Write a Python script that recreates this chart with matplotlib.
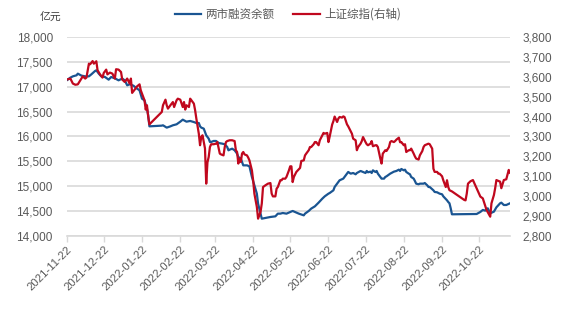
import matplotlib
matplotlib.use("Agg")
import matplotlib.pyplot as plt
import matplotlib.ticker as mticker
import pandas as pd

plt.rcParams['font.family'] = ['Liberation Sans', 'Noto Sans CJK SC', 'DejaVu Sans']

# 两市融资余额（亿元）
margin_dates = [
    "2021-11-22", "2021-11-25", "2021-11-27", "2021-11-30", "2021-12-01", "2021-12-04",
    "2021-12-07", "2021-12-10", "2021-12-12", "2021-12-15", "2021-12-16", "2021-12-18",
    "2021-12-20", "2021-12-23", "2021-12-26", "2021-12-28", "2021-12-31", "2022-01-03",
    "2022-01-06", "2022-01-08", "2022-01-10", "2022-01-12", "2022-01-15", "2022-01-18",
    "2022-01-20", "2022-01-22", "2022-01-24", "2022-01-26", "2022-01-27", "2022-01-28",
    "2022-02-07", "2022-02-08", "2022-02-11", "2022-02-14", "2022-02-16", "2022-02-19",
    "2022-02-22", "2022-02-24", "2022-02-27", "2022-03-02", "2022-03-05", "2022-03-07",
    "2022-03-09", "2022-03-10", "2022-03-11", "2022-03-13", "2022-03-14", "2022-03-15",
    "2022-03-17", "2022-03-18", "2022-03-19", "2022-03-21", "2022-03-23", "2022-03-25",
    "2022-03-28", "2022-03-30", "2022-04-01", "2022-04-02", "2022-04-03", "2022-04-05",
    "2022-04-07", "2022-04-09", "2022-04-10", "2022-04-12", "2022-04-14", "2022-04-17",
    "2022-04-19", "2022-04-21", "2022-04-23", "2022-04-25", "2022-04-26", "2022-04-28",
    "2022-04-29", "2022-05-02", "2022-05-06", "2022-05-10", "2022-05-12", "2022-05-14",
    "2022-05-16", "2022-05-19", "2022-05-22", "2022-05-24", "2022-05-26", "2022-05-29",
    "2022-06-02", "2022-06-03", "2022-06-06", "2022-06-08", "2022-06-11", "2022-06-14",
    "2022-06-17", "2022-06-19", "2022-06-22", "2022-06-23", "2022-06-26", "2022-06-27",
    "2022-06-29", "2022-07-01", "2022-07-04", "2022-07-07", "2022-07-08", "2022-07-10",
    "2022-07-12", "2022-07-14", "2022-07-15", "2022-07-18", "2022-07-20", "2022-07-22",
    "2022-07-23", "2022-07-24", "2022-07-26", "2022-07-27", "2022-07-28", "2022-07-30",
    "2022-07-31", "2022-08-01", "2022-08-03", "2022-08-04", "2022-08-06", "2022-08-07",
    "2022-08-08", "2022-08-11", "2022-08-12", "2022-08-14", "2022-08-16", "2022-08-18",
    "2022-08-19", "2022-08-20", "2022-08-22", "2022-08-23", "2022-08-24", "2022-08-26",
    "2022-08-27", "2022-08-28", "2022-08-30", "2022-08-31", "2022-09-01", "2022-09-03",
    "2022-09-04", "2022-09-07", "2022-09-08", "2022-09-10", "2022-09-11", "2022-09-12",
    "2022-09-15", "2022-09-16", "2022-09-18", "2022-09-19", "2022-09-20", "2022-09-22",
    "2022-09-23", "2022-09-24", "2022-09-26", "2022-09-27", "2022-09-28", "2022-09-29",
    "2022-09-30", "2022-10-20", "2022-10-21", "2022-10-23", "2022-10-25", "2022-10-27",
    "2022-10-29", "2022-10-31", "2022-11-03", "2022-11-05", "2022-11-08", "2022-11-09",
    "2022-11-11", "2022-11-13", "2022-11-16",
]
margin_balance = [
    17129, 17183, 17209, 17230, 17263, 17223,
    17209, 17209, 17250, 17317, 17330, 17263,
    17209, 17196, 17142, 17196, 17169, 17129,
    17163, 17129, 17029, 17049, 17022, 16962,
    16928, 16760, 16727, 16560, 16426, 16204,
    16218, 16225, 16178, 16204, 16225, 16245,
    16298, 16338, 16298, 16312, 16290, 16271,
    16271, 16204, 16178, 16158, 16090, 16024,
    15957, 15890, 15890, 15910, 15910, 15869,
    15856, 15843, 15789, 15722, 15735, 15755,
    15722, 15655, 15588, 15555, 15420, 15420,
    15400, 15186, 15018, 14851, 14650, 14449,
    14348, 14362, 14382, 14395, 14449, 14449,
    14462, 14449, 14482, 14503, 14482, 14449,
    14415, 14449, 14503, 14550, 14596, 14670,
    14750, 14797, 14851, 14864, 14918, 14985,
    15052, 15119, 15153, 15253, 15287, 15253,
    15266, 15240, 15266, 15307, 15287, 15266,
    15307, 15280, 15293, 15266, 15320, 15287,
    15307, 15253, 15186, 15153, 15153, 15186,
    15199, 15253, 15266, 15293, 15307, 15333,
    15307, 15347, 15320, 15333, 15287, 15253,
    15240, 15186, 15153, 15106, 15052, 15039,
    15052, 15052, 15065, 15018, 14985, 14985,
    14918, 14885, 14878, 14864, 14851, 14838,
    14797, 14771, 14717, 14683, 14657, 14556,
    14436, 14442, 14456, 14483, 14523, 14510,
    14556, 14456, 14489, 14576, 14657, 14670,
    14623, 14623, 14657,
]

# 上证综指
sse_dates = [
    "2021-11-22", "2021-11-25", "2021-11-27", "2021-11-29", "2021-12-01", "2021-12-03",
    "2021-12-05", "2021-12-07", "2021-12-08", "2021-12-10", "2021-12-11", "2021-12-13",
    "2021-12-14", "2021-12-16", "2021-12-17", "2021-12-19", "2021-12-21", "2021-12-22",
    "2021-12-24", "2021-12-25", "2021-12-27", "2021-12-29", "2021-12-31", "2022-01-01",
    "2022-01-03", "2022-01-05", "2022-01-06", "2022-01-08", "2022-01-10", "2022-01-12",
    "2022-01-13", "2022-01-14", "2022-01-16", "2022-01-18", "2022-01-20", "2022-01-21",
    "2022-01-23", "2022-01-24", "2022-01-25", "2022-01-26", "2022-01-27", "2022-01-28",
    "2022-02-07", "2022-02-08", "2022-02-10", "2022-02-11", "2022-02-12", "2022-02-14",
    "2022-02-16", "2022-02-17", "2022-02-19", "2022-02-20", "2022-02-22", "2022-02-24",
    "2022-02-25", "2022-02-26", "2022-02-27", "2022-03-01", "2022-03-02", "2022-03-03",
    "2022-03-05", "2022-03-06", "2022-03-07", "2022-03-09", "2022-03-10", "2022-03-11",
    "2022-03-12", "2022-03-14", "2022-03-15", "2022-03-16", "2022-03-17", "2022-03-18",
    "2022-03-19", "2022-03-21", "2022-03-23", "2022-03-24", "2022-03-26", "2022-03-27",
    "2022-03-29", "2022-03-30", "2022-03-31", "2022-04-01", "2022-04-03", "2022-04-05",
    "2022-04-07", "2022-04-08", "2022-04-09", "2022-04-10", "2022-04-11", "2022-04-12",
    "2022-04-13", "2022-04-14", "2022-04-15", "2022-04-17", "2022-04-18", "2022-04-19",
    "2022-04-21", "2022-04-22", "2022-04-23", "2022-04-25", "2022-04-26", "2022-04-28",
    "2022-04-29", "2022-04-30", "2022-05-02", "2022-05-04", "2022-05-06", "2022-05-07",
    "2022-05-08", "2022-05-10", "2022-05-11", "2022-05-12", "2022-05-14", "2022-05-15",
    "2022-05-16", "2022-05-18", "2022-05-19", "2022-05-21", "2022-05-22", "2022-05-23",
    "2022-05-24", "2022-05-25", "2022-05-27", "2022-05-30", "2022-05-31", "2022-06-02",
    "2022-06-03", "2022-06-04", "2022-06-06", "2022-06-07", "2022-06-08", "2022-06-10",
    "2022-06-11", "2022-06-12", "2022-06-14", "2022-06-15", "2022-06-17", "2022-06-18",
    "2022-06-19", "2022-06-21", "2022-06-22", "2022-06-23", "2022-06-25", "2022-06-26",
    "2022-06-27", "2022-06-29", "2022-06-30", "2022-07-01", "2022-07-03", "2022-07-04",
    "2022-07-05", "2022-07-07", "2022-07-08", "2022-07-09", "2022-07-11", "2022-07-12",
    "2022-07-14", "2022-07-15", "2022-07-16", "2022-07-18", "2022-07-19", "2022-07-20",
    "2022-07-22", "2022-07-23", "2022-07-24", "2022-07-26", "2022-07-27", "2022-07-28",
    "2022-07-30", "2022-07-31", "2022-08-01", "2022-08-03", "2022-08-04", "2022-08-05",
    "2022-08-06", "2022-08-07", "2022-08-08", "2022-08-10", "2022-08-11", "2022-08-12",
    "2022-08-14", "2022-08-15", "2022-08-16", "2022-08-18", "2022-08-19", "2022-08-20",
    "2022-08-22", "2022-08-23", "2022-08-24", "2022-08-26", "2022-08-27", "2022-08-28",
    "2022-08-30", "2022-08-31", "2022-09-01", "2022-09-03", "2022-09-04", "2022-09-06",
    "2022-09-07", "2022-09-08", "2022-09-10", "2022-09-11", "2022-09-12", "2022-09-14",
    "2022-09-15", "2022-09-16", "2022-09-18", "2022-09-19", "2022-09-20", "2022-09-22",
    "2022-09-23", "2022-09-24", "2022-09-25", "2022-09-26", "2022-09-27", "2022-09-28",
    "2022-09-30", "2022-10-10", "2022-10-11", "2022-10-12", "2022-10-13", "2022-10-15",
    "2022-10-17", "2022-10-20", "2022-10-23", "2022-10-25", "2022-10-28", "2022-10-31",
    "2022-11-01", "2022-11-03", "2022-11-04", "2022-11-05", "2022-11-08", "2022-11-09",
    "2022-11-11", "2022-11-13", "2022-11-15", "2022-11-16",
]
sse_close = [
    3586, 3591, 3566, 3560, 3562, 3582,
    3602, 3591, 3596, 3666, 3663, 3679,
    3666, 3678, 3633, 3612, 3596, 3619,
    3636, 3612, 3621, 3616, 3591, 3638,
    3636, 3624, 3586, 3574, 3591, 3566,
    3591, 3519, 3535, 3552, 3562, 3532,
    3499, 3482, 3435, 3457, 3400, 3361,
    3423, 3457, 3485, 3457, 3440, 3457,
    3473, 3448, 3482, 3490, 3485, 3448,
    3473, 3435, 3457, 3448, 3490, 3482,
    3465, 3432, 3390, 3314, 3256, 3298,
    3306, 3240, 3063, 3170, 3197, 3247,
    3261, 3261, 3264, 3272, 3214, 3210,
    3205, 3247, 3272, 3277, 3281, 3281,
    3277, 3231, 3222, 3164, 3189, 3172,
    3214, 3222, 3210, 3205, 3194, 3180,
    3130, 3080, 3013, 2946, 2887, 2921,
    2963, 3046, 3055, 3063, 3066, 3013,
    2999, 2999, 3038, 3046, 3080, 3080,
    3088, 3088, 3097, 3130, 3150, 3150,
    3071, 3097, 3122, 3142, 3177, 3180,
    3205, 3214, 3231, 3247, 3247, 3261,
    3272, 3272, 3256, 3281, 3306, 3318,
    3314, 3318, 3272, 3300, 3360, 3377,
    3400, 3373, 3390, 3398, 3395, 3401,
    3398, 3361, 3351, 3339, 3314, 3289,
    3281, 3231, 3247, 3264, 3277, 3297,
    3272, 3261, 3256, 3264, 3277, 3251,
    3256, 3256, 3247, 3189, 3164, 3214,
    3222, 3231, 3227, 3247, 3272, 3277,
    3272, 3277, 3284, 3294, 3271, 3272,
    3256, 3261, 3222, 3231, 3231, 3239,
    3214, 3200, 3189, 3184, 3205, 3227,
    3247, 3256, 3261, 3264, 3261, 3239,
    3138, 3122, 3122, 3113, 3113, 3100,
    3080, 3063, 3046, 3080, 3046, 3030,
    3024, 2981, 2979, 3013, 3063, 3075,
    3081, 3040, 2998, 2989, 2931, 2897,
    2964, 3006, 3040, 3081, 3073, 3040,
    3081, 3085, 3132, 3118,
]

tick_dates = [
    "2021-11-22", "2021-12-22", "2022-01-22", "2022-02-22", "2022-03-22", "2022-04-22",
    "2022-05-22", "2022-06-22", "2022-07-22", "2022-08-22", "2022-09-22", "2022-10-22",
]
x_start, x_end = "2021-11-22", "2022-11-16"
left_ticks = list(range(14000, 18001, 500))
right_ticks = list(range(2800, 3801, 100))

series_names = ["两市融资余额", "上证综指(右轴)"]
unit_label = "亿元"

BLUE = "#1a5592"
RED = "#c0081e"
GRID = "#d9d9d9"
TEXT = "#595959"

fig = plt.figure(figsize=(5.7, 3.32), dpi=100)
ax = fig.add_axes([0.117, 0.2892, 0.7777, 0.5994])
ax2 = ax.twinx()

l1, = ax.plot(pd.to_datetime(margin_dates), margin_balance, color=BLUE, lw=1.6,
              solid_joinstyle="round")
l2, = ax2.plot(pd.to_datetime(sse_dates), sse_close, color=RED, lw=1.6,
               solid_joinstyle="round")

ax.set_xlim(pd.Timestamp(x_start), pd.Timestamp(x_end))
ax.set_ylim(left_ticks[0], left_ticks[-1])
ax2.set_ylim(right_ticks[0], right_ticks[-1])
ax.set_yticks(left_ticks)
ax2.set_yticks(right_ticks)
fmt = mticker.FuncFormatter(lambda v, p: f"{int(v):,}")
ax.yaxis.set_major_formatter(fmt)
ax2.yaxis.set_major_formatter(fmt)

ax.yaxis.grid(True, color=GRID, lw=1.2)
ax.set_axisbelow(True)

for a in (ax, ax2):
    for s in ("top", "left", "right", "bottom"):
        a.spines[s].set_visible(False)
ax.spines["bottom"].set_visible(True)
ax.spines["bottom"].set_color(GRID)
ax.spines["bottom"].set_linewidth(1.2)

ax.set_xticks(pd.to_datetime(tick_dates))
ax.set_xticklabels(tick_dates, rotation=45, ha="right", rotation_mode="anchor")
ax.tick_params(axis="x", length=4, width=1, color=GRID, labelsize=8.2,
               labelcolor=TEXT, pad=2)
ax.tick_params(axis="y", length=0, pad=10, labelsize=8.5, labelcolor=TEXT)
ax2.tick_params(axis="y", length=0, pad=9, labelsize=8.5, labelcolor=TEXT)

fig.text(51 / 570, 1 - 16.5 / 332, unit_label, ha="center", va="center",
         fontsize=7.8, color="#404040", family=["Noto Sans CJK SC"])

fig.legend([l1, l2], series_names, loc="center", bbox_to_anchor=(0.505, 0.957),
           ncol=2, frameon=False, handlelength=2.3, handletextpad=0.4,
           columnspacing=1.6, labelcolor=TEXT,
           prop={"family": ["Noto Sans CJK SC"], "size": 8.3})

fig.savefig("out.png", dpi=100)
